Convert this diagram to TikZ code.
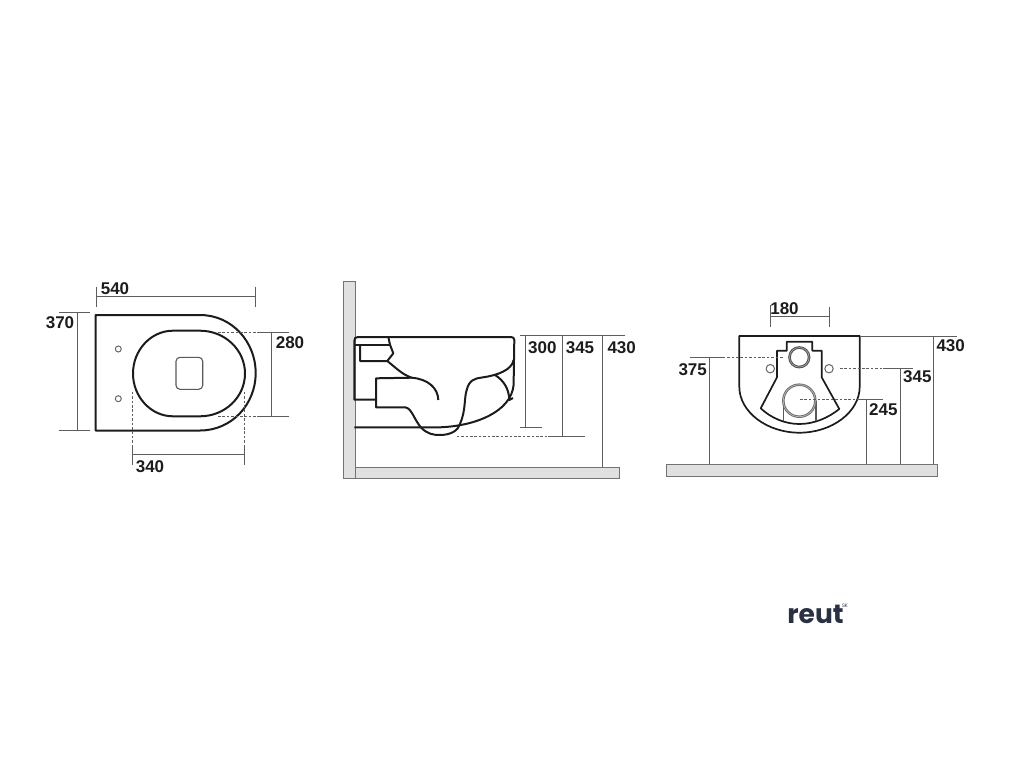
\documentclass[tikz,border=0pt]{standalone}
\usepackage{fontspec}
\setmainfont{Liberation Sans}
\newfontfamily\logofont{Poppins}
\definecolor{dimc}{HTML}{5E5E5E}
\definecolor{ink}{HTML}{1C1C1C}
\definecolor{slab}{HTML}{E0E0E0}
\definecolor{logoc}{HTML}{2A3142}
\tikzset{
  dimline/.style={draw=dimc,line width=1pt},
  dashline/.style={draw=dimc,line width=0.9pt,dash pattern=on 2.6pt off 1.8pt},
  body/.style={draw=ink,line width=2pt,line join=round},
  frontbody/.style={draw=ink,line width=1.7pt,line join=round},
  greyline/.style={draw=black!65,line width=1.1pt},
  slabshape/.style={fill=slab,draw=black!55,line width=1pt},
  hole/.style={draw=black!60,line width=1pt,fill=white},
  lab/.style={font=\fontsize{17}{18}\selectfont\bfseries,text=ink,inner sep=0pt}
}
\begin{document}
\begin{tikzpicture}[x=1pt,y=-1pt]
\useasboundingbox (0,0) rectangle (1024,768);
% ---------- top view
\path[body] (95.7,315) -- (200,315) .. controls (232,315) and (255.7,342) .. (255.7,373) .. controls (255.7,404) and (232,430.5) .. (200,430.5) -- (95.7,430.5) -- cycle;
\path[body] (173,330.7) -- (200,330.7) .. controls (225,330.7) and (245,350) .. (245,373.5) .. controls (245,397) and (225,416.3) .. (200,416.3) -- (173,416.3) .. controls (151,416.3) and (133,397) .. (133,373.5) .. controls (133,350) and (151,330.7) .. (173,330.7) -- cycle;
\draw[hole] (118.3,349) circle (3);
\draw[hole] (118.3,398.7) circle (3);
\draw[greyline,rounded corners=4pt] (176,357.3) rectangle (202.7,389.3);
\path[dimline] (96,296.3) -- (255.7,296.3);
\path[dimline] (96,286.7) -- (96,306.7);
\path[dimline] (255.7,286.7) -- (255.7,306.7);
\node[lab] (t540) at (115,288.5) {540};
\path[dimline] (77.3,312.3) -- (77.3,430.7);
\path[dimline] (59.3,312.3) -- (90,312.3);
\path[dimline] (59.3,430.7) -- (90,430.7);
\node[lab] (t370) at (60,323) {370};
\path[dimline] (271.7,332) -- (271.7,416);
\path[dashline] (218,332) -- (257,332);
\path[dimline] (257,332) -- (289,332);
\path[dashline] (218,416) -- (257,416);
\path[dimline] (257,416) -- (289,416);
\node[lab] (t280) at (290,342.7) {280};
\path[dimline] (132,454.7) -- (244.3,454.7);
\path[dashline] (132,391.7) -- (132,447);
\path[dimline] (132,447) -- (132,465);
\path[dashline] (244.3,391.7) -- (244.3,447);
\path[dimline] (244.3,447) -- (244.3,465);
\node[lab] (t340) at (150,466.7) {340};
% ---------- side view
\path[slabshape] (343.7,281.7) rectangle (355,478.7);
\path[slabshape] (355,467) rectangle (619,478.7);
\path[body] (354.3,427.3) -- (440,427.3) .. controls (475,426) and (511,412) .. (513.6,385) -- (514.3,340) .. controls (514.3,338) and (513,337) .. (511,337) -- (358,337) .. controls (355.5,337) and (354.3,338) .. (354.3,341) -- (354.3,399.7) -- (376,399.7);
\path[body] (354.3,344.7) -- (390,344.7);
\path[body] (388.3,337) -- (390,344.7) -- (393.3,353.3) -- (387.3,361) -- (360,361) -- (360,344.7);
\path[body] (387.3,361) .. controls (396,368) and (403,375) .. (411.7,377.7) .. controls (428,379) and (438,388) .. (438.3,400);
\path[body] (411.7,377.7) -- (376,378.3) -- (376,407.3) -- (405,407.3) .. controls (412,408) and (414,420) .. (421.7,428.3) .. controls (428,434) and (433,435) .. (440,435) .. controls (450,435) and (458,431) .. (460,424) .. controls (466,410) and (464,398) .. (466.7,390) .. controls (469,380) and (475,378.3) .. (482,377.5) .. controls (497,375.5) and (512,370) .. (513.6,360);
\path[body] (495,375) .. controls (503,380) and (509,388) .. (509.3,400) -- (513,398);
\path[dimline] (520.3,335.3) -- (625,335.3);
\path[dimline] (525.7,335.3) -- (525.7,427);
\path[dimline] (520,427) -- (542.3,427);
\path[dimline] (562.7,335.3) -- (562.7,436.7);
\path[dashline] (456.7,436.7) -- (548.3,436.7);
\path[dimline] (548.3,436.7) -- (585,436.7);
\path[dimline] (602.3,335.3) -- (602.3,467);
\node[lab] (t300) at (542.3,347.7) {300};
\node[lab] (t345a) at (580,347.7) {345};
\node[lab] (t430a) at (621.7,347.7) {430};
% ---------- front view
\path[slabshape] (666,464.3) rectangle (937.7,476);
\path[frontbody] (739.3,336) -- (859.7,336) -- (859.7,386.7) .. controls (859.7,412) and (832,432.7) .. (799.3,432.7) .. controls (767,432.7) and (739.3,412) .. (739.3,386.7) -- cycle;
\path[frontbody] (786.7,341.7) -- (812.3,341.7) -- (812.3,350.7) -- (821.7,350.7) -- (821.7,377.3) -- (839.3,409) .. controls (828,418) and (814,424) .. (799.3,424) .. controls (785,424) and (771,418) .. (760.7,408.3) -- (777,377.3) -- (777,350.7) -- (786.7,350.7) -- cycle;
\draw[draw=black!70,line width=2.6pt] (799.3,357.3) circle (9.8);
\draw[draw=black!35,line width=0.7pt] (799.3,357.3) circle (9.8);
\path[greyline] (783.3,400.7) -- (783.3,421.2);
\path[greyline] (816,400.7) -- (816,421.2);
\draw[draw=black!58,line width=2.5pt] (799.3,400.7) circle (16);
\draw[draw=black!28,line width=0.7pt] (799.3,400.7) circle (16);
\draw[hole] (770.3,368.7) circle (4.2);
\draw[hole] (829,368.7) circle (4.2);
\path[dimline] (770.3,316.7) -- (829.7,316.7);
\path[dimline] (770.3,305) -- (770.3,326.7);
\path[dimline] (829.7,306.7) -- (829.7,326.7);
\node[lab] (t180) at (784.5,308.3) {180};
\path[dimline] (859.7,336) -- (956.7,336);
\path[dimline] (933.3,336) -- (933.3,464.3);
\node[lab] (t430b) at (950.7,346) {430};
\path[dimline] (709.3,357.3) -- (709.3,464.3);
\path[dimline] (690,357.3) -- (722.7,357.3);
\path[dashline] (722.7,357.3) -- (784,357.3);
\node[lab] (t375) at (692.7,369.3) {375};
\path[dimline] (900.7,368.7) -- (900.7,464.3);
\path[dashline] (840,368.7) -- (883,368.7);
\path[dimline] (883,368.7) -- (913,368.7);
\node[lab] (t345b) at (917.3,376.7) {345};
\path[dimline] (866.7,399) -- (866.7,464.3);
\path[dashline] (800,399) -- (856.7,399);
\path[dimline] (856.7,399) -- (882.7,399);
\node[lab] (t245) at (883.3,410) {245};
% ---------- logo
\node[font=\logofont\fontsize{26.5}{28}\selectfont\bfseries,text=logoc,inner sep=0pt,anchor=base] (logo) at (815.5,623.5) {reut};
\node[font=\logofont\fontsize{5}{5}\selectfont,text=logoc,inner sep=0pt] (logosk) at (845,606) {SK};
\end{tikzpicture}
\end{document}
